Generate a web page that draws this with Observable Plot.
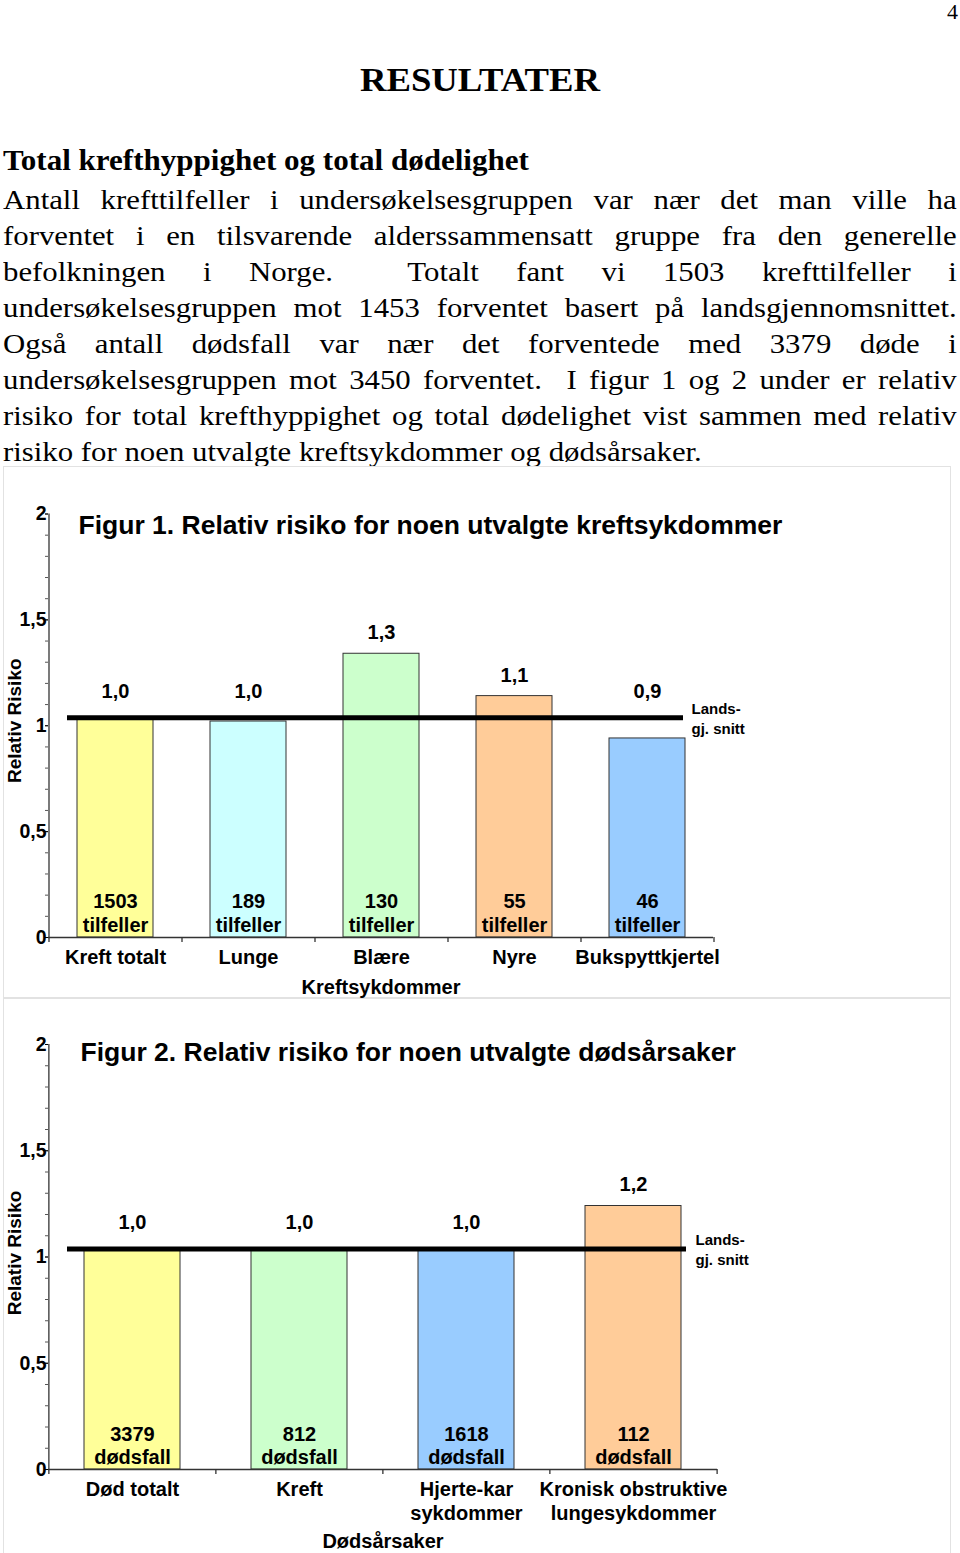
<!DOCTYPE html>
<html>
<head>
<meta charset="utf-8">
<script src="https://cdn.jsdelivr.net/npm/d3@7"></script>
<script src="https://cdn.jsdelivr.net/npm/@observablehq/plot@0.6"></script>
<style>
html, body { margin: 0; padding: 0; background: #fff; }
#page { position: relative; width: 960px; height: 1553px; overflow: hidden; font-family: "Liberation Serif", "Times New Roman", serif; color: #000; }
.pnum { position: absolute; right: 2px; top: 0px; font-size: 22px; line-height: 24px; }
.h1 { position: absolute; left: 0; width: 960px; top: 58px; text-align: center; font-weight: bold; font-size: 34px; line-height: 44px; transform: scaleX(1.08); transform-origin: 480px 0; }
.h2 { position: absolute; left: 3px; top: 140px; font-weight: bold; font-size: 29px; line-height: 40px; white-space: nowrap; transform: scaleX(1.07); transform-origin: 0 0; }
.para { position: absolute; left: 3px; top: 182px; width: 867px; font-size: 28px; line-height: 36px; transform: scaleX(1.1); transform-origin: 0 0; }
.para div { text-align: justify; text-align-last: justify; }
.para div.last { text-align-last: left; }
.box { position: absolute; border: 1px solid #e2e2e2; box-sizing: border-box; }
.chart { position: absolute; left: 0; }
.chart svg { display: block; }
</style>
</head>
<body>
<div id="page">
  <div class="pnum">4</div>
  <div class="h1">RESULTATER</div>
  <div class="h2">Total krefthyppighet og total dødelighet</div>
  <div class="para">
    <div>Antall krefttilfeller i undersøkelsesgruppen var nær det man ville ha</div>
    <div>forventet i en tilsvarende alderssammensatt gruppe fra den generelle</div>
    <div>befolkningen i Norge.&nbsp; Totalt fant vi 1503 krefttilfeller i</div>
    <div>undersøkelsesgruppen mot 1453 forventet basert på landsgjennomsnittet.</div>
    <div>Også antall dødsfall var nær det forventede med 3379 døde i</div>
    <div>undersøkelsesgruppen mot 3450 forventet.&nbsp; I figur 1 og 2 under er relativ</div>
    <div>risiko for total krefthyppighet og total dødelighet vist sammen med relativ</div>
    <div class="last">risiko for noen utvalgte kreftsykdommer og dødsårsaker.</div>
  </div>
  <div class="box" style="left:3px; top:466px; width:948px; height:532px;"></div>
  <div class="box" style="left:3px; top:998px; width:948px; height:600px;"></div>
  <div class="chart" id="fig1" style="top:466px;"></div>
  <div class="chart" id="fig2" style="top:998px;"></div>
</div>
<script>
// ---- Figure 1 data: cancer types ----
const cancerCategories = ["Kreft totalt", "Lunge", "Blære", "Nyre", "Bukspyttkjertel"];
const cancerRR = [1.03, 1.02, 1.34, 1.14, 0.94];
const cancerRRLabels = ["1,0", "1,0", "1,3", "1,1", "0,9"];
const cancerCounts = [1503, 189, 130, 55, 46];
const cancerUnit = "tilfeller";

// ---- Figure 2 data: causes of death ----
const deathCategories = ["Død totalt", "Kreft", "Hjerte-kar\nsykdommer", "Kronisk obstruktive\nlungesykdommer"];
const deathRR = [1.03, 1.03, 1.03, 1.24];
const deathRRLabels = ["1,0", "1,0", "1,0", "1,2"];
const deathCounts = [3379, 812, 1618, 112];
const deathUnit = "dødsfall";

// ---- shared axis ----
const yTickValues = [0, 0.5, 1, 1.5, 2];
const yTickLabels = ["0", "0,5", "1", "1,5", "2"];
const yMinorTicks = [0, 0.1, 0.2, 0.3, 0.4, 0.5, 0.6, 0.7, 0.8, 0.9, 1, 1.1, 1.2, 1.3, 1.4, 1.5, 1.6, 1.7, 1.8, 1.9, 2];
const nationalAverage = 1;
const nationalAverageLabel = "Lands-\ngj. snitt";
const yAxisTitle = "Relativ Risiko";

// ---- styles ----
const cancerColors = ["#ffff99", "#ccffff", "#ccffcc", "#ffcc99", "#99ccff"];
const deathColors = ["#ffff99", "#ccffcc", "#99ccff", "#ffcc99"];

function makeChart(o) {
  const rows = o.cats.map((c, i) => ({cat: c, rr: o.rr[i], label: o.rrLabels[i], count: o.counts[i]}));
  const plotW = o.width - o.marginLeft - o.marginRight;
  const plotH = o.height - o.marginTop - o.marginBottom;
  const step = plotW / o.cats.length;
  const pInner = 1 - o.barPx / step;
  const tickLen = 5 * 2 / plotH;
  const last = o.cats[o.cats.length - 1];
  const nearLine = d => d.rr <= 1.05;
  return Plot.plot({
    width: o.width, height: o.height,
    marginLeft: o.marginLeft, marginRight: o.marginRight, marginTop: o.marginTop, marginBottom: o.marginBottom,
    style: {fontFamily: '"Liberation Sans", Arial, sans-serif', fontWeight: "bold", background: "transparent", overflow: "visible", color: "#000"},
    x: {domain: o.cats, paddingInner: pInner, paddingOuter: pInner / 2},
    y: {domain: [0, 2]},
    color: {domain: o.cats, range: o.colors},
    marks: [
      Plot.barY(rows, {x: "cat", y: "rr", fill: "cat", stroke: "#333", strokeWidth: 1}),
      Plot.ruleY([0], {stroke: "#333", strokeWidth: 1.5}),
      Plot.ruleX([o.cats[0]], {x: d => d, dx: -step / 2, y1: -tickLen, y2: 2, stroke: "#333", strokeWidth: 1.3}),
      Plot.ruleX(o.cats.slice(1), {x: d => d, dx: -step / 2, y1: -tickLen, y2: 0, stroke: "#333", strokeWidth: 1.3}),
      Plot.ruleX([last], {x: d => d, dx: step / 2, y1: -tickLen, y2: 0, stroke: "#333", strokeWidth: 1.3}),
      Plot.axisY({ticks: yMinorTicks, tickSize: 3, tickFormat: () => "", label: null, stroke: "#555"}),
      Plot.axisY({ticks: yTickValues, tickSize: 3, tickPadding: -1, tickFormat: d => yTickLabels[yTickValues.indexOf(d)], fontSize: 19.5, label: null}),
      Plot.axisX({tickSize: 0, tickPadding: 9, fontSize: 20, lineHeight: 1.2, label: null}),
      Plot.ruleY([nationalAverage], {stroke: "#000", strokeWidth: 5, dy: -8, insetLeft: 19, insetRight: o.lineInsetRight}),
      Plot.text([nationalAverage], {y: d => d, frameAnchor: "right", textAnchor: "start", lineAnchor: "middle", dx: -22, dy: -8, text: () => nationalAverageLabel, fontSize: 15, lineHeight: 1.33}),
      Plot.text(rows, {filter: nearLine, x: "cat", y: d => Math.max(d.rr, 1.03), text: "label", dy: -28, fontSize: 20}),
      Plot.text(rows, {filter: d => !nearLine(d), x: "cat", y: "rr", text: "label", dy: -21, fontSize: 20}),
      Plot.text(rows, {x: "cat", y: () => 0, text: d => `${d.count}\n${o.unit}`, lineAnchor: "bottom", dy: -6, fontSize: 20, lineHeight: o.countLineHeight}),
      Plot.text([o.title], {frameAnchor: "top-left", text: d => d, textAnchor: "start", lineAnchor: "middle", dx: o.titleDx, dy: o.titleDy, fontSize: 26.5}),
      Plot.text([yAxisTitle], {frameAnchor: "left", text: d => d, rotate: -90, textAnchor: "middle", lineAnchor: "middle", dx: -34, dy: o.yTitleDy, fontSize: 19}),
      Plot.text([o.xTitle], {frameAnchor: "bottom", text: d => d, textAnchor: "middle", lineAnchor: "middle", dy: o.xTitleDy, fontSize: 20})
    ]
  });
}

document.getElementById("fig1").appendChild(makeChart({
  cats: cancerCategories, rr: cancerRR, rrLabels: cancerRRLabels, counts: cancerCounts, unit: cancerUnit,
  colors: cancerColors, title: "Figur 1. Relativ risiko for noen utvalgte kreftsykdommer", xTitle: "Kreftsykdommer",
  width: 960, height: 531, marginLeft: 48, marginRight: 247, marginTop: 47.5, marginBottom: 60,
  barPx: 76, lineInsetRight: 30, xTitleDy: 50, titleDx: 30, titleDy: 11.5, yTitleDy: -5, countLineHeight: 1.2
}));

document.getElementById("fig2").appendChild(makeChart({
  cats: deathCategories, rr: deathRR, rrLabels: deathRRLabels, counts: deathCounts, unit: deathUnit,
  colors: deathColors, title: "Figur 2. Relativ risiko for noen utvalgte dødsårsaker", xTitle: "Dødsårsaker",
  width: 960, height: 555, marginLeft: 48, marginRight: 243, marginTop: 46, marginBottom: 84,
  barPx: 96, lineInsetRight: 31, xTitleDy: 72, titleDx: 32, titleDy: 8, yTitleDy: -4, countLineHeight: 1.15
}));
</script>
</body>
</html>
